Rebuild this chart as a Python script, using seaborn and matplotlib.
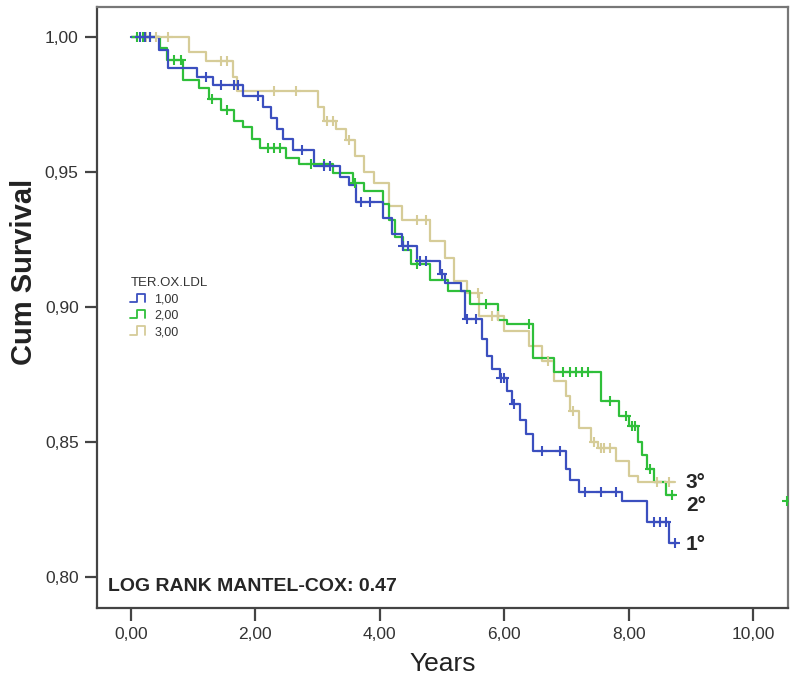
import numpy as np
import pandas as pd
import seaborn as sns
import matplotlib.pyplot as plt
from matplotlib.lines import Line2D
from matplotlib.legend_handler import HandlerBase

# kaplan-meier steps (time, survival after the step)
t1 = [0.00, 0.45, 0.60, 1.06, 1.32, 1.80, 2.13, 2.25, 2.35, 2.45, 2.60, 2.95, 3.36,
      3.50, 3.62, 4.05, 4.20, 4.35, 4.60, 4.97, 5.05, 5.30, 5.37, 5.65, 5.72, 5.80,
      5.93, 6.05, 6.12, 6.25, 6.35, 6.46, 7.00, 7.05, 7.20, 7.90, 8.30, 8.65, 8.78]
s1 = [1.000, 0.995, 0.9885, 0.985, 0.982, 0.978, 0.974, 0.970, 0.966, 0.962, 0.958,
      0.952, 0.948, 0.945, 0.939, 0.933, 0.927, 0.9225, 0.917, 0.912, 0.909, 0.906,
      0.8955, 0.888, 0.882, 0.877, 0.8736, 0.869, 0.864, 0.858, 0.853, 0.8465, 0.840,
      0.836, 0.8316, 0.828, 0.8205, 0.8126, 0.8126]

t2 = [0.00, 0.47, 0.58, 0.84, 1.10, 1.25, 1.45, 1.65, 1.80, 1.95, 2.07, 2.50, 2.70,
      3.25, 3.57, 3.75, 4.05, 4.15, 4.25, 4.37, 4.50, 4.80, 5.10, 5.45, 5.90, 6.05,
      6.46, 6.80, 7.55, 7.85, 8.00, 8.15, 8.22, 8.30, 8.40, 8.60, 8.75]
s2 = [1.000, 0.996, 0.9914, 0.984, 0.981, 0.977, 0.973, 0.969, 0.9665, 0.962, 0.9587,
      0.955, 0.953, 0.9494, 0.946, 0.943, 0.938, 0.932, 0.926, 0.921, 0.916, 0.910,
      0.906, 0.901, 0.895, 0.8937, 0.881, 0.876, 0.865, 0.8595, 0.856, 0.850, 0.845,
      0.840, 0.8353, 0.8305, 0.8305]

t3 = [0.00, 0.93, 1.20, 1.64, 1.70, 3.00, 3.10, 3.30, 3.45, 3.60, 3.75, 3.90, 4.15,
      4.35, 4.80, 5.05, 5.20, 5.40, 5.60, 6.00, 6.40, 6.60, 6.80, 7.00, 7.05, 7.20,
      7.40, 7.50, 7.80, 8.00, 8.15, 8.75]
s3 = [1.000, 0.9944, 0.991, 0.985, 0.980, 0.974, 0.969, 0.966, 0.9617, 0.956, 0.950,
      0.9457, 0.9375, 0.932, 0.9245, 0.918, 0.9097, 0.905, 0.8967, 0.891, 0.8855,
      0.880, 0.8725, 0.867, 0.8613, 0.855, 0.850, 0.8476, 0.8428, 0.8372, 0.8353, 0.8353]

# censored observations
c1_t = [0.15, 0.22, 0.30, 1.20, 1.45, 1.65, 1.72, 2.05, 2.75, 3.10, 3.20, 3.70, 3.85,
        4.38, 4.45, 4.65, 4.75, 5.00, 5.40, 5.55, 5.95, 6.00, 6.15, 6.60, 6.90, 7.30,
        7.55, 7.80, 8.40, 8.50, 8.60, 8.75]
c1_s = [1.0, 1.0, 1.0, 0.985, 0.982, 0.982, 0.982, 0.978, 0.958, 0.952, 0.952, 0.939,
        0.939, 0.9225, 0.9225, 0.917, 0.917, 0.912, 0.8955, 0.8955, 0.8736, 0.8736,
        0.864, 0.8465, 0.8465, 0.8316, 0.8316, 0.8316, 0.8205, 0.8205, 0.8205, 0.8126]
c2_t = [0.10, 0.20, 0.30, 0.70, 0.80, 1.30, 1.55, 2.20, 2.30, 2.40, 2.90, 3.10, 3.60,
        4.60, 5.70, 6.40, 6.95, 7.05, 7.15, 7.25, 7.35, 7.70, 7.95, 8.05, 8.10, 8.35,
        8.70, 10.55]
c2_s = [1.0, 1.0, 1.0, 0.9914, 0.9914, 0.977, 0.973, 0.9587, 0.9587, 0.9587, 0.953,
        0.953, 0.946, 0.916, 0.901, 0.8937, 0.876, 0.876, 0.876, 0.876, 0.876, 0.865,
        0.8595, 0.856, 0.856, 0.840, 0.8305, 0.828]
c3_t = [0.25, 0.40, 0.60, 1.45, 1.55, 2.30, 2.65, 3.15, 3.25, 3.50, 4.60, 4.75, 5.58,
        5.80, 5.90, 6.70, 7.10, 7.45, 7.55, 7.60, 7.70, 8.45, 8.65]
c3_s = [1.0, 1.0, 1.0, 0.991, 0.991, 0.980, 0.980, 0.969, 0.969, 0.9617, 0.932, 0.932,
        0.905, 0.8967, 0.8967, 0.880, 0.8613, 0.850, 0.8476, 0.8476, 0.8476, 0.8353,
        0.8353]

groups = ['1,00', '2,00', '3,00']
colors = ['#3b4fbf', '#2fbf3a', '#d6cc98']
end_labels = ['1°', '2°', '3°']
end_y = [0.812, 0.8265, 0.835]

steps = pd.concat([
    pd.DataFrame({'time': t, 'surv': s, 'group': g})
    for t, s, g in [(t1, s1, groups[0]), (t2, s2, groups[1]), (t3, s3, groups[2])]
])
cens = pd.concat([
    pd.DataFrame({'time': t, 'surv': s, 'group': g})
    for t, s, g in [(c1_t, c1_s, groups[0]), (c2_t, c2_s, groups[1]),
                    (c3_t, c3_s, groups[2])]
])
pal = dict(zip(groups, colors))

sns.set_style('white')
plt.rcParams['font.family'] = ['Liberation Sans', 'DejaVu Sans']

fig = plt.figure(figsize=(8, 6.87), dpi=100)
ax = fig.add_axes([0.121, 0.115, 0.864, 0.875])

# draw tan first so blue/green sit on top
for g in groups[::-1]:
    sub = steps[steps['group'] == g]
    sns.lineplot(data=sub, x='time', y='surv', color=pal[g], drawstyle='steps-post',
                 estimator=None, sort=False, linewidth=1.6, ax=ax, legend=False)
    csub = cens[cens['group'] == g]
    sns.scatterplot(data=csub, x='time', y='surv', color=pal[g], marker='+', s=60,
                    linewidth=1.5, ax=ax, legend=False, zorder=3)

ax.set_xlim(-0.547, 10.56)
ax.set_ylim(0.7885, 1.0111)
ax.set_xticks([0, 2, 4, 6, 8, 10])
ax.set_xticklabels(['0,00', '2,00', '4,00', '6,00', '8,00', '10,00'])
ax.set_yticks([0.80, 0.85, 0.90, 0.95, 1.00])
ax.set_yticklabels(['0,80', '0,85', '0,90', '0,95', '1,00'])
ax.tick_params(axis='x', bottom=True, direction='out', length=9, width=1.6,
               color='#444444', labelsize=12.5, labelcolor='#333333', pad=5)
ax.tick_params(axis='y', left=True, direction='out', length=9, width=1.6,
               color='#444444', labelsize=12.5, labelcolor='#333333', pad=4)
for side in ['left', 'bottom']:
    ax.spines[side].set_color('#444444')
    ax.spines[side].set_linewidth(1.6)
for side in ['top', 'right']:
    ax.spines[side].set_color('#777777')
    ax.spines[side].set_linewidth(1.6)

ax.set_xlabel('Years', fontsize=19, color='#222222', labelpad=7)
ax.set_ylabel('Cum Survival', fontsize=21, fontweight='bold', color='#222222')
ax.yaxis.label.set_va('center')
ax.yaxis.set_label_coords(-0.106, 0.559)

for lab, yv in zip(end_labels, end_y):
    ax.text(8.92, yv, lab, fontsize=15, fontweight='bold', va='center', ha='left')

ax.text(0.016, 0.035, 'LOG RANK MANTEL-COX: 0.47', transform=ax.transAxes,
        fontsize=14, fontweight='bold', va='center', ha='left')


class StepHandler(HandlerBase):
    def create_artists(self, legend, orig_handle, xdescent, ydescent, width,
                       height, fontsize, trans):
        xs = np.array([0, 0.4, 0.4, 0.9, 0.9]) * width - xdescent
        ys = np.array([0.05, 0.05, 1.0, 1.0, 0.05]) * height - ydescent
        line = Line2D(xs, ys, color=orig_handle.get_color(), linewidth=1.3)
        line.set_transform(trans)
        return [line]


handles = [Line2D([], [], color=c) for c in colors]
leg = ax.legend(handles, groups, title='TER.OX.LDL', loc='upper left',
                bbox_to_anchor=(0.036, 0.565), frameon=False, fontsize=9,
                title_fontsize=9.5, handlelength=1.3, handletextpad=0.6,
                labelspacing=0.35, borderpad=0.2,
                handler_map={Line2D: StepHandler()})
leg._legend_box.align = 'left'
for txt in leg.get_texts():
    txt.set_color('#333333')
leg.get_title().set_color('#333333')

fig.savefig('out.png', dpi=100)
